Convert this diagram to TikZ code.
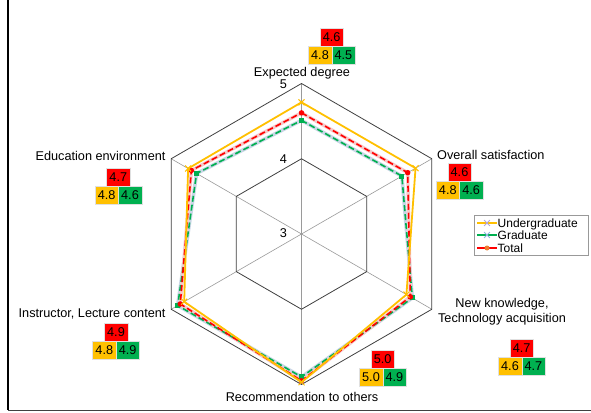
\documentclass[tikz,border=0pt]{standalone}
\usepackage{fontspec}
\setmainfont{Liberation Sans}
\usetikzlibrary{shapes.misc}
\definecolor{cOr}{HTML}{FFC000}
\definecolor{cGr}{HTML}{00B050}
\definecolor{cRd}{HTML}{FF0000}
\definecolor{haloB}{HTML}{C9D6E6}
\definecolor{haloR}{HTML}{F6CACA}
\definecolor{gridc}{HTML}{404040}
\definecolor{spokec}{HTML}{9A9A9A}
\definecolor{lavx}{HTML}{B4A7D6}
\definecolor{bluex}{HTML}{8FB4E0}
\definecolor{dotc}{HTML}{ED7D31}
\tikzset{
  lbl/.style={font=\fontsize{12.7}{15.5}\selectfont, inner sep=0pt},
  vbox/.style={font=\fontsize{12.7}{14}\selectfont, minimum width=23.4pt, minimum height=18pt, inner sep=0pt, draw=black!12, line width=0.4pt},
  rbox/.style={vbox, fill=cRd},
  obox/.style={vbox, fill=cOr},
  gbox/.style={vbox, fill=cGr},
  gridline/.style={draw=gridc, line width=0.8pt},
  spoke/.style={draw=spokec, line width=0.6pt},
  uline/.style={draw=cOr, line width=1.8pt, line join=round},
  ghalo/.style={draw=haloB, line width=3.6pt, line join=round},
  rhalo/.style={draw=haloR, line width=3.4pt, line join=round},
  gline/.style={draw=cGr, line width=1.6pt, dash pattern=on 6pt off 3pt},
  rline/.style={draw=cRd, line width=1.6pt, dash pattern=on 6pt off 3pt},
  umark/.style={cross out, draw=cOr, line width=1pt, minimum size=5pt, inner sep=0pt},
  gmark/.style={rectangle, fill=cGr, minimum size=5pt, inner sep=0pt},
  rmark/.style={circle, fill=cRd, minimum size=5.5pt, inner sep=0pt},
}
\newcommand{\valtrio}[6]{%
  \node[rbox] (#1r) at (#2,#3-18) {#4};
  \node[obox] (#1o) at (#2-11.7,#3) {#5};
  \node[gbox] (#1g) at (#2+11.7,#3) {#6};
}
\begin{document}
\begin{tikzpicture}[x=1pt,y=-1pt]
\useasboundingbox (0,0) rectangle (591,412);
\fill[white] (0,0) rectangle (591,412);
% frame
\coordinate (fTL) at (8,0);
\coordinate (fBL) at (8,410);
\coordinate (fBR) at (591,410);
\draw[black, line width=1.6pt] (fTL) -- (fBL);
\draw[gridc, line width=0.8pt] (fBL) -- (fBR);

\begin{scope}[shift={(301.5,234)}]
  \coordinate (C) at (0,0);
  \foreach \i in {1,...,6} {
    \coordinate (o\i) at ({-150+60*\i}:150.5);
    \coordinate (m\i) at ({-150+60*\i}:75.25);
  }
  \foreach \i in {1,...,6} \draw[spoke] (C) -- (o\i);
  \draw[gridline] (o1)--(o2)--(o3)--(o4)--(o5)--(o6)--cycle;
  \draw[gridline] (m1)--(m2)--(m3)--(m4)--(m5)--(m6)--cycle;
  % data
  \foreach \v [count=\i] in {4.75,4.75,4.61,4.97,4.80,4.74}
    \coordinate (u\i) at ({-150+60*\i}:{(\v-3)*75.25});
  \foreach \v [count=\i] in {4.51,4.54,4.70,4.90,4.90,4.61}
    \coordinate (g\i) at ({-150+60*\i}:{(\v-3)*75.25});
  \foreach \v [count=\i] in {4.61,4.63,4.67,4.95,4.86,4.69}
    \coordinate (t\i) at ({-150+60*\i}:{(\v-3)*75.25});
\end{scope}

\draw[ghalo] (g1)--(g2)--(g3)--(g4)--(g5)--(g6)--cycle;
\draw[rhalo] (t1)--(t2)--(t3)--(t4)--(t5)--(t6)--cycle;
\draw[gline] (g1)--(g2)--(g3)--(g4)--(g5)--(g6)--cycle;
\draw[rline] (t1)--(t2)--(t3)--(t4)--(t5)--(t6)--cycle;
\foreach \i in {1,...,6} \node[gmark] (gm\i) at (g\i) {};
\foreach \i in {1,...,6} \node[rmark] (tm\i) at (t\i) {};
\draw[uline] (u1)--(u2)--(u3)--(u4)--(u5)--(u6)--cycle;
\foreach \i in {1,...,6} \node[umark] (um\i) at (u\i) {};

% axis values
\node[lbl] (a5) at (283.5,84.5) {5};
\node[lbl] (a4) at (283.5,159.5) {4};
\node[lbl] (a3) at (283.5,233.5) {3};

% category labels
\node[lbl, anchor=base] (cat1) at (302,76.3) {Expected degree};
\node[lbl, anchor=base west] (cat2) at (437,159.8) {Overall satisfaction};
\node[lbl, anchor=center, align=center] (cat3) at (502,311.5) {New knowledge,\\Technology acquisition};
\node[lbl, anchor=base] (cat4) at (302,401) {Recommendation to others};
\node[lbl, anchor=base east] (cat5) at (165.7,317) {Instructor, Lecture content};
\node[lbl, anchor=base east] (cat6) at (165.7,160) {Education environment};

% value boxes
\valtrio{v1}{331.7}{55}{4.6}{4.8}{4.5}
\valtrio{v2}{459.5}{190}{4.6}{4.8}{4.6}
\valtrio{v3}{521.7}{366.3}{4.7}{4.6}{4.7}
\valtrio{v4}{382.7}{376.7}{5.0}{5.0}{4.9}
\valtrio{v5}{116}{349.7}{4.9}{4.8}{4.9}
\valtrio{v6}{118.3}{195.5}{4.7}{4.8}{4.6}

% legend
\node[draw=black!40, fill=white, line width=0.6pt, minimum width=114pt, minimum height=40pt, inner sep=0pt] (leg) at (531,235) {};
\coordinate (l1a) at (477,223); \coordinate (l1b) at (497,223);
\coordinate (l2a) at (477,235); \coordinate (l2b) at (497,235);
\coordinate (l3a) at (477,248); \coordinate (l3b) at (497,248);
\draw[cOr, line width=1.6pt] (l1a) -- (l1b);
\draw[cGr, line width=1.6pt] (l2a) -- (l2b);
\draw[cRd, line width=1.6pt] (l3a) -- (l3b);
\node[cross out, draw=lavx, line width=0.8pt, minimum size=5pt, inner sep=0pt] (lm1) at (487,223) {};
\node[cross out, draw=bluex, line width=0.8pt, minimum size=5pt, inner sep=0pt] (lm2) at (487,235) {};
\node[circle, fill=dotc, minimum size=5pt, inner sep=0pt] (lm3) at (487,248) {};
\node[lbl, font=\fontsize{12}{14}\selectfont, anchor=base west] (lt1) at (497.5,227.3) {Undergraduate};
\node[lbl, font=\fontsize{12}{14}\selectfont, anchor=base west] (lt2) at (497.5,239.3) {Graduate};
\node[lbl, font=\fontsize{12}{14}\selectfont, anchor=base west] (lt3) at (497.5,252.6) {Total};
\end{tikzpicture}
\end{document}
